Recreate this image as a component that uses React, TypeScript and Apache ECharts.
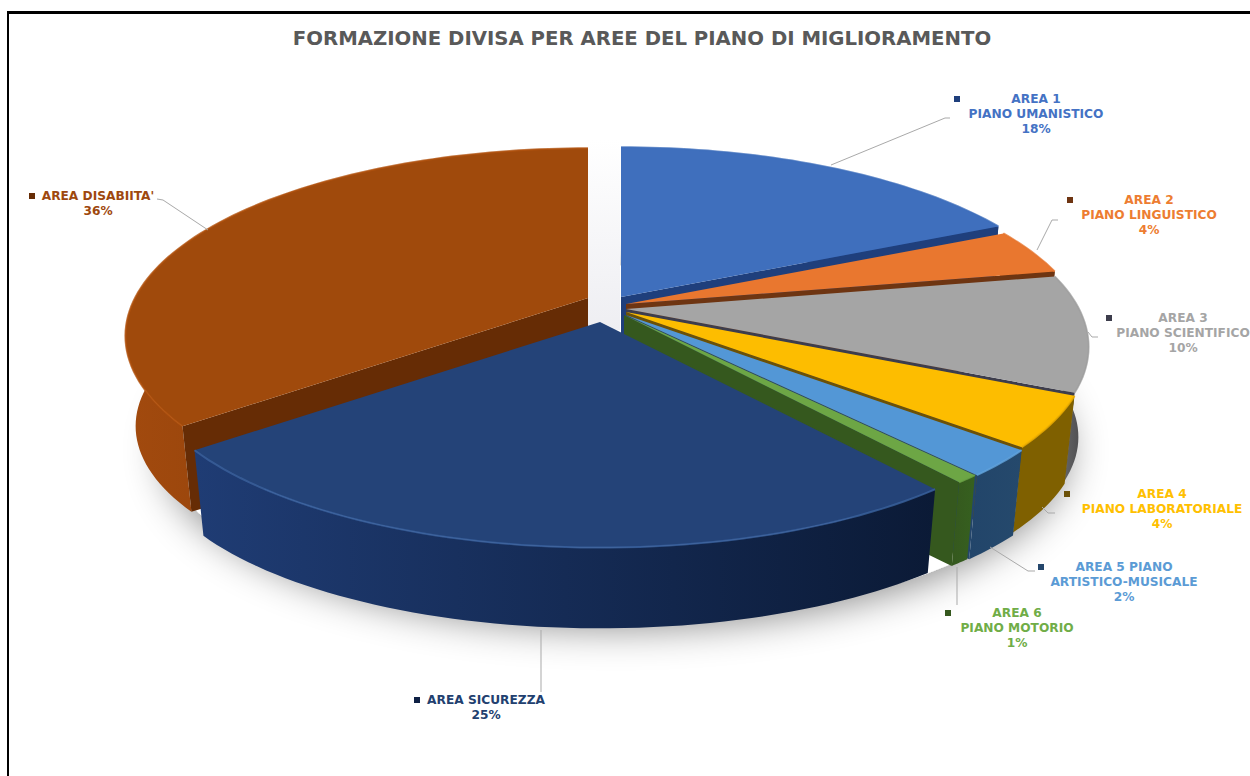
import React, { useEffect, useRef } from "react";
import * as echarts from "echarts";

const titleText = "FORMAZIONE DIVISA PER AREE DEL PIANO DI MIGLIORAMENTO";
const sliceNames = ["AREA 1", "AREA 2", "AREA 3", "AREA 4", "AREA 5", "AREA 6", "AREA SICUREZZA", "AREA DISABIITA'"];
const sliceValues = [18, 4, 10, 4.3, 2.3, 0.7, 25, 35.7];
const subNames = ["PIANO UMANISTICO", "PIANO LINGUISTICO", "PIANO SCIENTIFICO", "PIANO LABORATORIALE", "", "PIANO MOTORIO", "", ""];

const topColors = ["#3f6fbd", "#e9772f", "#a5a5a5", "#fdbd00", "#5397d6", "#6da645", "#244378", "#a04a0c"];
const rimColors = ["#3f6fbd", "#e9772f", "#a0a0a0", "#f0b000", "#5fa2de", "#6da645", "#3a619f", "#b2530f"];
const wallColors = ["#1f3f7c", "#6e3512", "#3d3d4c", "#6b5108", "#24466b", "#35581e", "#0f2044", "#662c05"];
const textColors = ["#4472c4", "#ed7d31", "#a5a5a5", "#ffc000", "#5b9bd5", "#70ad47", "#22406f", "#9e480e"];
const sideStops = [
  ["#2a4f94", "#1f3f7c"],
  ["#8a4218", "#6e3512"],
  ["#7a7a7a", "#454548"],
  ["#7f6000", "#7f6000"],
  ["#22456a", "#25496c"],
  ["#35581e", "#36601f"],
  ["#1f3c74", "#152b55", "#0b1a36"],
  ["#a24a0e", "#8f400a", "#7d380a"],
];
// apex of every exploded slice on the page
const apexX = [621, 626, 626, 626, 626, 624, 600, 588];
const apexY = [297, 304, 309, 312, 315, 315, 322, 298];
const paintRank = [1, 2, 3, 4, 5, 6, 8, 7];
// which radial cut of a slice faces the viewer: 1 = closing edge, 0 = opening edge, -1 = none
const cutEdge = [1, 1, 1, 1, 1, 1, -1, 0];

const persp = 0.2022;
const radX = 453;
const radY = 180;
const depthScaleX = 0.978;
const depthScaleY = 0.95;
const depthDrop = 92;

const total = sliceValues.reduce((a, b) => a + b, 0);

function rim(apex: number[], deg: number) {
  const t = (deg * Math.PI) / 180;
  const X = Math.sin(t);
  const Y = Math.cos(t);
  const d = 1 + persp * Y;
  return [apex[0] + (radX * X) / d, apex[1] - (radY * Y) / d];
}
function below(apex: number[], p: number[]) {
  return [apex[0] + (p[0] - apex[0]) * depthScaleX, apex[1] + (p[1] - apex[1]) * depthScaleY + depthDrop];
}

const labelCenters = [
  [1036, 99], [1149, 200], [1183, 318], [1162, 494], [1124, 567], [1017, 613], [486, 700], [98, 196],
];
const markerSpots = [
  [957, 99], [1070, 200], [1109, 318], [1067, 494], [1041, 567], [948, 613], [417, 700], [32, 196],
];
const leaderLines = [
  [[831, 165], [945, 118], [950, 118]],
  [[1037, 250], [1052, 220], [1058, 220]],
  [[1088, 332], [1092, 337], [1098, 337]],
  [[1042, 507], [1048, 513], [1055, 513]],
  [[990, 547], [1028, 571], [1035, 571]],
  [[957, 567], [957, 605]],
  [[541, 630], [541, 692]],
  [[208, 230], [163, 200], [157, 199]],
];
const labelLines = (i: number) => {
  const pct = `${Math.round(sliceValues[i])}%`;
  if (i === 4) return ["AREA 5 PIANO", "ARTISTICO-MUSICALE", pct];
  if (subNames[i]) return [sliceNames[i], subNames[i], pct];
  return [sliceNames[i], pct];
};

function renderSlice(params: any, api: any) {
  const i = params.dataIndex;
  const start = (api.value(1) / total) * 360;
  const sweep = (api.value(0) / total) * 360;
  const apex = [apexX[i], apexY[i]];
  const steps = Math.max(8, Math.ceil(sweep / 1.5));
  const top: number[][] = [];
  for (let k = 0; k <= steps; k++) top.push(rim(apex, start + (sweep * k) / steps));
  const bottom = top.map((p) => below(apex, p));
  const stops = sideStops[i];
  const fill = {
    type: "linear", x: 0, y: 0, x2: 1, y2: 0,
    colorStops: stops.map((c, n) => ({ offset: n / (stops.length - 1), color: c })),
  };
  const z = paintRank[i] * 10;
  const apexBottom = below(apex, apex);
  const children: any[] = [
    { type: "polygon", z2: z, shape: { points: [...top, ...bottom.slice().reverse()] }, style: { fill } },
  ];
  if (cutEdge[i] >= 0) {
    const edge = cutEdge[i] ? top.length - 1 : 0;
    children.push({
      type: "polygon", z2: z + 1,
      shape: { points: [apex, top[edge], bottom[edge], apexBottom] },
      style: { fill: wallColors[i] },
    });
  }
  children.push({ type: "polygon", z2: z + 2, shape: { points: [apex, ...top] }, style: { fill: topColors[i] } });
  children.push({
    type: "polyline", z2: z + 3, shape: { points: top },
    style: { stroke: rimColors[i], lineWidth: 2, fill: "none", opacity: 0.8 },
  });
  return { type: "group", children };
}

function renderShadow() {
  const apex = [616, 316];
  const pts: number[][] = [];
  for (let d = 0; d < 360; d += 3) pts.push(below(apex, rim(apex, d)));
  return {
    type: "group",
    children: [
      {
        type: "polygon", z2: 0, shape: { points: pts },
        style: { fill: "#ffffff", shadowBlur: 38, shadowColor: "rgba(0,0,0,0.45)", shadowOffsetY: 6 },
      },
      {
        type: "rect", z2: 1, shape: { x: 588, y: 140, width: 32, height: 190 },
        style: {
          fill: {
            type: "linear", x: 0, y: 0, x2: 0, y2: 1,
            colorStops: [{ offset: 0, color: "#ffffff" }, { offset: 1, color: "#eeeef2" }],
          },
        },
      },
    ],
  };
}

function buildGraphics() {
  const els: any[] = [
    { type: "rect", shape: { x: 7, y: 11, width: 1243, height: 3 }, style: { fill: "#000" } },
    { type: "rect", shape: { x: 7, y: 11, width: 2, height: 765 }, style: { fill: "#000" } },
  ];
  sliceNames.forEach((_, i) => {
    els.push({
      type: "polyline", z: 5,
      shape: { points: leaderLines[i] },
      style: { stroke: "#a9a9a9", lineWidth: 1, fill: "none" },
    });
    els.push({
      type: "rect", z: 5,
      shape: { x: markerSpots[i][0] - 3, y: markerSpots[i][1] - 3, width: 6, height: 6 },
      style: { fill: wallColors[i] },
    });
    labelLines(i).forEach((line, n) => {
      els.push({
        type: "text", z: 5,
        x: labelCenters[i][0], y: labelCenters[i][1] + n * 15,
        style: {
          text: line, fill: textColors[i], align: "center", verticalAlign: "middle",
          font: 'bold 12.2px "DejaVu Sans"',
        },
      });
    });
  });
  return els;
}

export default function App() {
  const ref = useRef<HTMLDivElement>(null);
  useEffect(() => {
    document.body.style.margin = "0";
    const chart = echarts.init(ref.current!, undefined, { renderer: "svg" });
    let acc = 0;
    const rows = sliceValues.map((v) => {
      const row = [v, acc];
      acc += v;
      return row;
    });
    chart.setOption({
      animation: false,
      backgroundColor: "#ffffff",
      title: {
        text: titleText, left: 637, top: 23, textAlign: "center",
        textStyle: { color: "#595959", fontFamily: "DejaVu Sans", fontWeight: "bold", fontSize: 19.7 },
      },
      graphic: buildGraphics(),
      series: [
        { type: "custom", coordinateSystem: "none", z: 1, silent: true, data: [[0]], renderItem: renderShadow },
        { type: "custom", coordinateSystem: "none", z: 2, silent: true, data: rows, renderItem: renderSlice },
      ],
    });
    return () => chart.dispose();
  }, []);
  return <div ref={ref} style={{ position: "fixed", left: 0, top: 0, width: 1250, height: 776 }} />;
}
